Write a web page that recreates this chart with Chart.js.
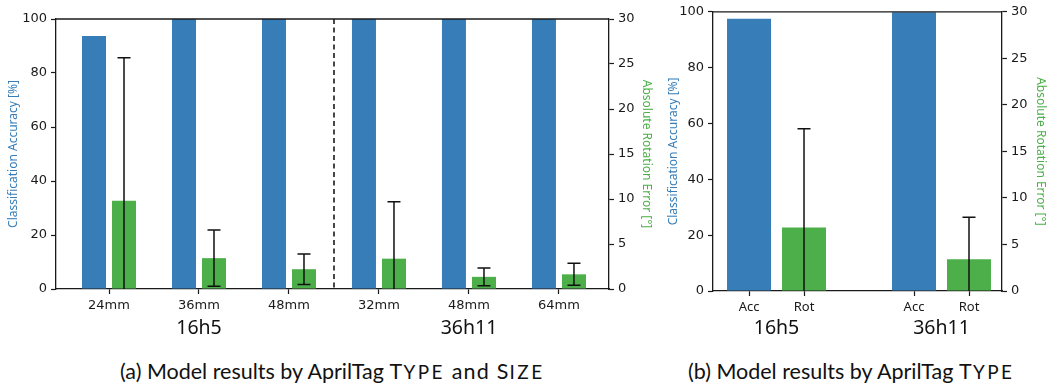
<!DOCTYPE html>
<html>
<head>
<meta charset="utf-8">
<script src="https://cdn.jsdelivr.net/npm/chart.js@4.4.1/dist/chart.umd.min.js"></script>
<style>
    body { margin: 0; background: #fff; width: 1058px; height: 388px; position: relative; overflow: hidden; }
    #sizeBox { position: absolute; left: 0; top: 0; }
    #typeBox { position: absolute; left: 660px; top: 0; }
    .caption { position: absolute; top: 358px; font-family: Lato, "Noto Sans", sans-serif; font-size: 21.5px; color: #111; white-space: nowrap; }
    .tail { letter-spacing: 1.2px; }
    .sc { font-size: 0.88em; letter-spacing: 2.5px; }
</style>
</head>
<body>
<canvas id="sizeBox" width="660" height="345"></canvas>
<canvas id="typeBox" width="398" height="345"></canvas>
<div class="caption" style="left:120px">(a) Model results by AprilTag <span class="tail">T<span class="sc">YPE</span> and S<span class="sc">IZE</span></span></div>
<div class="caption" style="left:688px">(b) Model results by AprilTag <span class="tail">T<span class="sc">YPE</span></span></div>
<script>
// ---- data: left panel (by type and size) ----
const familyLabels = ['16h5', '36h11'];
const sizeLabels = ['24mm', '36mm', '48mm', '32mm', '48mm', '64mm'];
const accBySize = [93.7, 100, 100, 100, 100, 100];      // %
const rotBySize = [9.8, 3.43, 2.2, 3.37, 1.35, 1.63];   // deg
const rotStdBySize = [15.9, 3.13, 1.7, 6.33, 0.98, 1.22];

// ---- data: right panel (by type) ----
const metricLabels = ['Acc', 'Rot'];
const accByType = [97.5, 99.8];
const rotByType = [6.83, 3.42];
const rotStdByType = [10.6, 4.5];

const BLUE = '#377eb8';
const GREEN = '#4daf4a';
const INK = '#1a1a1a';
const tickFont = { family: 'DejaVu Sans', size: 13 };
const titleFont = { family: 'Noto Sans', size: 12 };

// error bars on the green dataset (index 1, right axis)
function errorBars(means, stds) {
    return {
        id: 'errorBars',
        afterDatasetsDraw(chart) {
            const { ctx, chartArea } = chart;
            const meta = chart.getDatasetMeta(1);
            const ys = chart.scales.y1;
            ctx.save();
            ctx.beginPath();
            ctx.rect(chartArea.left, chartArea.top - 1, chartArea.width, chartArea.height + 1);
            ctx.clip();
            ctx.strokeStyle = '#111';
            ctx.lineWidth = 1.5;
            meta.data.forEach((bar, i) => {
                const top = ys.getPixelForValue(means[i] + stds[i]);
                const bot = ys.getPixelForValue(means[i] - stds[i]);
                ctx.beginPath();
                ctx.moveTo(bar.x, top); ctx.lineTo(bar.x, bot);
                ctx.moveTo(bar.x - 6.5, top); ctx.lineTo(bar.x + 6.5, top);
                ctx.moveTo(bar.x - 6.5, bot); ctx.lineTo(bar.x + 6.5, bot);
                ctx.stroke();
            });
            ctx.restore();
        }
    };
}

// top spine, dashed separators and family names under the tick labels
function frameAndGroups(groupCenter, separators) {
    return {
        id: 'frameAndGroups',
        afterDraw(chart) {
            const { ctx, chartArea } = chart;
            const xs = chart.scales.x;
            ctx.save();
            ctx.strokeStyle = INK;
            ctx.lineWidth = 1.3;
            ctx.beginPath();
            ctx.moveTo(chartArea.left, chartArea.top);
            ctx.lineTo(chartArea.right, chartArea.top);
            ctx.stroke();
            separators.forEach(v => {
                const x = xs.getPixelForValue(v);
                ctx.setLineDash([5, 3.5]);
                ctx.lineWidth = 1.6;
                ctx.beginPath();
                ctx.moveTo(x, chartArea.top);
                ctx.lineTo(x, chartArea.bottom);
                ctx.stroke();
            });
            ctx.setLineDash([]);
            ctx.fillStyle = '#111';
            ctx.font = '19.5px "Noto Sans"';
            ctx.textAlign = 'center';
            ctx.textBaseline = 'middle';
            familyLabels.forEach((name, g) => {
                ctx.fillText(name, xs.getPixelForValue(groupCenter(g)), 328);
            });
            ctx.restore();
        }
    };
}

function yAxis(position, max, step, title, color, width) {
    return {
        position: position,
        min: 0, max: max,
        border: { display: true, color: INK, width: 1.3 },
        grid: { drawOnChartArea: false, color: INK, tickLength: 5, tickWidth: 1.2 },
        ticks: { stepSize: step, color: INK, font: tickFont, padding: 4 },
        title: { display: true, text: title, color: color, font: titleFont, padding: { top: 6, bottom: 2 } },
        afterFit: s => { s.width = width; }
    };
}

const xGrid = { offset: false, drawOnChartArea: false, color: INK, tickLength: 5, tickWidth: 1.2 };

// ---- left chart ----
const perFamily = sizeLabels.length / familyLabels.length;
new Chart(document.getElementById('sizeBox'), {
    type: 'bar',
    data: {
        datasets: [{
            label: 'Classification Accuracy',
            data: accBySize.map((v, i) => ({ x: i, y: v })),
            backgroundColor: BLUE,
            yAxisID: 'y'
        }, {
            label: 'Absolute Rotation Error',
            data: rotBySize.map((v, i) => ({ x: i, y: v })),
            backgroundColor: GREEN,
            yAxisID: 'y1'
        }]
    },
    options: {
        responsive: false,
        animation: false,
        layout: { padding: { top: 19, left: 0, right: 0, bottom: 0 } },
        datasets: { bar: { categoryPercentage: 0.667, barPercentage: 0.8 } },
        plugins: { legend: { display: false }, tooltip: { enabled: false } },
        scales: {
            x: {
                type: 'linear',
                offset: false,
                min: -0.589, max: 5.556,
                border: { display: true, color: INK, width: 1.3 },
                grid: xGrid,
                afterBuildTicks: s => { s.ticks = sizeLabels.map((_, i) => ({ value: i })); },
                ticks: { color: INK, font: tickFont, padding: 4, callback: v => sizeLabels[v] },
                afterFit: s => { s.height = 56; }
            },
            y: yAxis('left', 100, 20, 'Classification Accuracy [%]', BLUE, 56),
            y1: yAxis('right', 30, 5, 'Absolute Rotation Error [°]', GREEN, 51)
        }
    },
    plugins: [
        errorBars(rotBySize, rotStdBySize),
        frameAndGroups(g => g * perFamily + (perFamily - 1) / 2,
            familyLabels.slice(1).map((_, g) => (g + 1) * perFamily - 0.5))
    ]
});

// ---- right chart ----
// bar slot on the x axis: two metrics per family, one empty slot between families
const slot = (g, k) => g * (metricLabels.length + 1) + k;
new Chart(document.getElementById('typeBox'), {
    type: 'bar',
    data: {
        datasets: [{
            label: 'Acc',
            data: accByType.map((v, g) => ({ x: slot(g, 0), y: v })),
            backgroundColor: BLUE,
            yAxisID: 'y',
            grouped: false
        }, {
            label: 'Rot',
            data: rotByType.map((v, g) => ({ x: slot(g, 1), y: v })),
            backgroundColor: GREEN,
            yAxisID: 'y1',
            grouped: false
        }]
    },
    options: {
        responsive: false,
        animation: false,
        layout: { padding: { top: 10, left: 0, right: 4, bottom: 0 } },
        datasets: { bar: { categoryPercentage: 1, barPercentage: 0.8 } },
        plugins: { legend: { display: false }, tooltip: { enabled: false } },
        scales: {
            x: {
                type: 'linear',
                offset: false,
                min: -0.655, max: 4.6,
                border: { display: true, color: INK, width: 1.3 },
                grid: xGrid,
                afterBuildTicks: s => {
                    s.ticks = familyLabels.flatMap((_, g) => metricLabels.map((_, k) => ({ value: slot(g, k) })));
                },
                ticks: { color: INK, font: { family: 'Noto Sans', size: 13 }, padding: 3,
                    callback: v => metricLabels[v % (metricLabels.length + 1)] },
                afterFit: s => { s.height = 54; }
            },
            y: yAxis('left', 100, 20, 'Classification Accuracy [%]', BLUE, 53),
            y1: yAxis('right', 30, 5, 'Absolute Rotation Error [°]', GREEN, 52)
        }
    },
    plugins: [
        errorBars(rotByType, rotStdByType),
        frameAndGroups(g => (slot(g, 0) + slot(g, 1)) / 2, [])
    ]
});
</script>
</body>
</html>
